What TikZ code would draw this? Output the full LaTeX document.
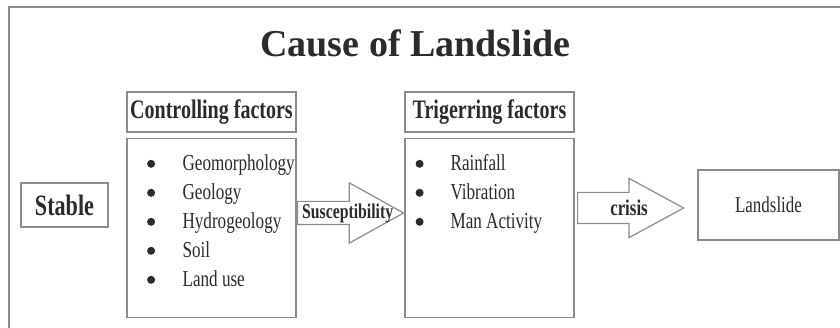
\documentclass[tikz,border=0pt]{standalone}
\usepackage{fontspec}
\setmainfont{Liberation Serif}
\newfontfamily\condfont[FakeStretch=0.75]{Liberation Serif}
\usepackage{xcolor}
\usetikzlibrary{positioning, shapes.arrows, matrix}
\definecolor{framegray}{HTML}{8C8C8C}
\definecolor{inkgray}{HTML}{2B2B2B}

\begin{document}
\begin{tikzpicture}[x=1pt, y=-1pt,
    box/.style={draw=framegray, line width=1.2pt, inner sep=0pt, text=inkgray},
    hdr/.style={box, minimum width=169pt, minimum height=40pt, font=\condfont\fontsize{26.7}{30}\selectfont\bfseries},
    listbox/.style={box, minimum width=169pt, minimum height=179pt},
    item/.style={inner sep=0pt, text=inkgray, anchor=base west, text height=15pt, text depth=6pt, font=\condfont\fontsize{22.8}{26}\selectfont},
    bullet/.style={circle, fill=inkgray, inner sep=0pt, minimum size=8pt, text height=0pt, text depth=0pt, anchor=center, yshift=7pt},
    blockarrow/.style={single arrow, draw=framegray, line width=1.2pt, inner xsep=0pt, minimum height=106pt, single arrow head indent=0pt, anchor=tail},
    arrowtxt/.style={inner sep=0pt, text=inkgray, font=\condfont\bfseries},
    ]
    \useasboundingbox (0,0) rectangle (840,328);

    % outer frame (runs off the page right and bottom)
    \draw[framegray, line width=1.2pt] (9,340) |- (850,7);

    % title
    \node[text=inkgray, font=\fontsize{38}{44}\selectfont\bfseries] (title) at (415.5,43) {Cause of Landslide};

    % stable state (left)
    \node[box, minimum width=87pt, minimum height=44pt, font=\condfont\fontsize{29.5}{33}\selectfont\bfseries] (stable) at (64.5,205) {Stable};

    % controlling factors
    \node[hdr] (ctrlhdr) at (211.5,112) {Controlling factors};
    \node[listbox, below=5pt of ctrlhdr] (ctrlbox) {};
    \matrix[matrix of nodes, nodes={item}, inner sep=0pt, column sep=27.5pt, row sep=8pt,
            anchor=north west, xshift=20.5pt, yshift=-18pt] (ctrlitems) at (ctrlbox.north west) {
        |[bullet]| {} & Geomorphology \\
        |[bullet]| {} & Geology \\
        |[bullet]| {} & Hydrogeology \\
        |[bullet]| {} & Soil \\
        |[bullet]| {} & Land use \\
    };

    % susceptibility arrow
    \node[blockarrow, inner ysep=11pt, single arrow head extend=18.5pt, single arrow tip angle=58] (susc) at (297,213) {};
    \node[arrowtxt, font=\condfont\bfseries\fontsize{21}{24}\selectfont, anchor=west, xshift=5pt] (susctxt) at (susc.tail) {Susceptibility};

    % triggering factors
    \node[hdr] (trighdr) at (489.5,112) {Trigerring factors};
    \node[listbox, below=5pt of trighdr] (trigbox) {};
    \matrix[matrix of nodes, nodes={item}, inner sep=0pt, column sep=27pt, row sep=8pt,
            anchor=north west, xshift=11pt, yshift=-18pt] (trigitems) at (trigbox.north west) {
        |[bullet]| {} & Rainfall \\
        |[bullet]| {} & Vibration \\
        |[bullet]| {} & Man Activity \\
    };

    % crisis arrow
    \node[blockarrow, inner ysep=15pt, single arrow head extend=14pt, single arrow tip angle=57] (crisis) at (577,208) {};
    \node[arrowtxt, font=\condfont\bfseries\fontsize{22.5}{26}\selectfont, xshift=52pt] (crisistxt) at (crisis.tail) {crisis};

    % landslide (right)
    \node[box, minimum width=141pt, minimum height=70pt, font=\condfont\fontsize{22.6}{26}\selectfont] (landslide) at (768.5,205) {Landslide};
\end{tikzpicture}
\end{document}
